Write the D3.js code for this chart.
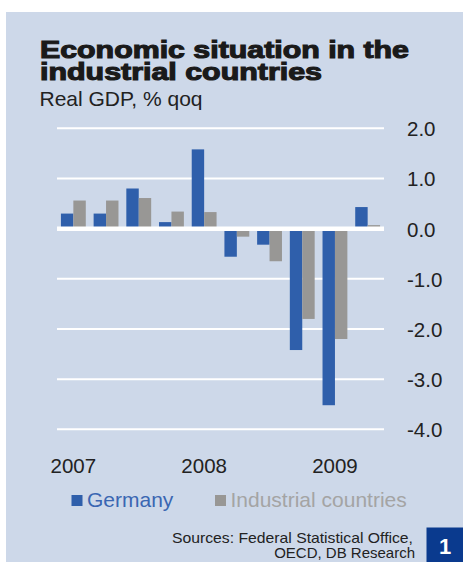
<!DOCTYPE html>
<html>
<head>
<meta charset="utf-8">
<script src="https://cdn.jsdelivr.net/npm/d3@7"></script>
<style>
  html, body { margin: 0; padding: 0; background: #ffffff; }
  svg { display: block; font-family: "Liberation Sans", Arial, sans-serif; }
</style>
</head>
<body>
<svg id="chart" width="463" height="562"></svg>
<script>
// Quarterly real GDP growth, % qoq
const quarters = ["2007Q1","2007Q2","2007Q3","2007Q4","2008Q1","2008Q2","2008Q3","2008Q4","2009Q1","2009Q2"];
const germany = [0.3, 0.3, 0.8, 0.13, 1.58, -0.56, -0.32, -2.42, -3.52, 0.43];
const industrial = [0.56, 0.56, 0.61, 0.34, 0.33, -0.16, -0.65, -1.8, -2.2, 0.07];
const seriesNames = ["Germany", "Industrial countries"];
const yTicks = [2, 1, 0, -1, -2, -3, -4];
const yearLabels = [{q: "2007Q1", text: "2007"}, {q: "2008Q1", text: "2008"}, {q: "2009Q1", text: "2009"}];

const colors = { Germany: "#2f5fab", "Industrial countries": "#989795" };
const legendText = { Germany: "#3a66b2", "Industrial countries": "#a4a4a4" };

const svg = d3.select("#chart");

// background panel
svg.append("rect").attr("x", 6).attr("y", 12).attr("width", 457).attr("height", 550).attr("fill", "#cdd8e9");

// title block
const title = svg.append("g").attr("fill", "#1a1a1a").attr("stroke", "#1a1a1a")
  .attr("stroke-width", 1.1).attr("font-weight", "bold").attr("font-size", 23);
title.append("text").attr("x", 40).attr("y", 57.5).attr("textLength", 369).attr("lengthAdjust", "spacingAndGlyphs")
  .text("Economic situation in the");
title.append("text").attr("x", 40).attr("y", 80).attr("textLength", 282).attr("lengthAdjust", "spacingAndGlyphs")
  .text("industrial countries");
svg.append("text").attr("x", 39.5).attr("y", 106).attr("font-size", 21).attr("fill", "#222")
  .text("Real GDP, % qoq");

// scales
const x = d3.scaleBand().domain(quarters).range([57, 384]).paddingInner(0.24).paddingOuter(0.12);
const xs = d3.scaleBand().domain(seriesNames).range([0, x.bandwidth()]);
const y = d3.scaleLinear().domain([-4, 2]).range([429.3, 128.3]);

// gridlines (excluding zero, drawn later on top of bars)
svg.append("g").selectAll("line").data(yTicks.filter(d => d !== 0)).join("line")
  .attr("x1", 57).attr("x2", 384).attr("y1", d => y(d)).attr("y2", d => y(d))
  .attr("stroke", "#ffffff").attr("stroke-width", 2);

// bars
const rows = quarters.map((q, i) => ({ q, values: [
  { s: "Germany", v: germany[i] },
  { s: "Industrial countries", v: industrial[i] }
]}));
svg.append("g").selectAll("g").data(rows).join("g")
  .attr("transform", d => `translate(${x(d.q)},0)`)
  .selectAll("rect").data(d => d.values.filter(v => v.v != null)).join("rect")
  .attr("x", d => xs(d.s)).attr("width", xs.bandwidth())
  .attr("y", d => y(Math.max(0, d.v))).attr("height", d => Math.abs(y(d.v) - y(0)))
  .attr("fill", d => colors[d.s]);

// zero line
svg.append("line").attr("x1", 57).attr("x2", 384).attr("y1", y(0)).attr("y2", y(0))
  .attr("stroke", "#ffffff").attr("stroke-width", 4.5);

// y axis on the right
const yAxis = d3.axisRight(y).tickValues(yTicks).tickSize(0).tickPadding(0)
  .tickFormat(d => d3.format(".1f")(d).replace("−", "-"));
const ya = svg.append("g").attr("transform", "translate(407,0)").call(yAxis);
ya.select(".domain").remove();
ya.selectAll("text").attr("font-size", 20.5).attr("fill", "#222")
  .attr("font-family", "Liberation Sans, Arial, sans-serif").attr("dy", "0.36em");

// year labels under the first quarter of each year
const xAxis = d3.axisBottom(x).tickValues(yearLabels.map(d => d.q)).tickSize(0).tickPadding(0)
  .tickFormat(q => yearLabels.find(d => d.q === q).text);
const xa = svg.append("g").attr("transform", "translate(0,458)").call(xAxis);
xa.select(".domain").remove();
xa.selectAll("text").attr("font-size", 20.5).attr("fill", "#222")
  .attr("font-family", "Liberation Sans, Arial, sans-serif").attr("dy", "0.72em");

// legend
const legendPos = [{ s: "Germany", x: 71.5 }, { s: "Industrial countries", x: 215 }];
const lg = svg.append("g").selectAll("g").data(legendPos).join("g")
  .attr("transform", d => `translate(${d.x},0)`);
lg.append("rect").attr("x", 0).attr("y", 495).attr("width", 11).attr("height", 11).attr("fill", d => colors[d.s]);
lg.append("text").attr("x", 15.5).attr("y", 507).attr("font-size", 21).attr("fill", d => legendText[d.s]).text(d => d.s);

// sources
const src = svg.append("g").attr("font-size", 15).attr("fill", "#222").attr("text-anchor", "end");
src.append("text").attr("x", 413).attr("y", 542.5).attr("textLength", 241).attr("lengthAdjust", "spacingAndGlyphs")
  .text("Sources: Federal Statistical Office,");
src.append("text").attr("x", 415).attr("y", 558).text("OECD, DB Research");

// chart number box
svg.append("rect").attr("x", 426.5).attr("y", 527.5).attr("width", 36.5).attr("height", 34.5).attr("fill", "#0a3a8e");
svg.append("text").attr("x", 445).attr("y", 554).attr("text-anchor", "middle").attr("font-size", 22)
  .attr("font-weight", "bold").attr("fill", "#ffffff").text("1");
</script>
</body>
</html>
